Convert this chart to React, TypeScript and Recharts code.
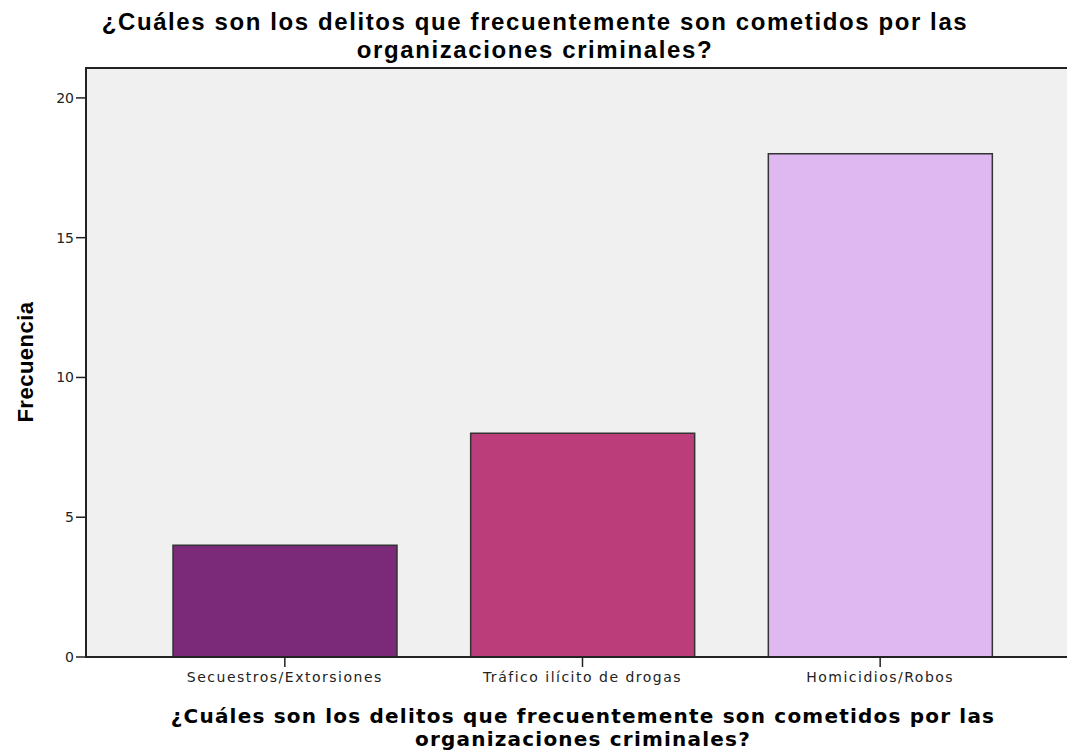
import React from 'react';
import { BarChart, Bar, XAxis, YAxis, Cell } from 'recharts';

const categories = ['Secuestros/Extorsiones', 'Tráfico ilícito de drogas', 'Homicidios/Robos'];
const frecuencias = [4, 8, 18];
const colores = ['#7b2979', '#bb3e7b', '#dfb8f2'];
const yTicks = [0, 5, 10, 15, 20];

const titulo1 = '¿Cuáles son los delitos que frecuentemente son cometidos por las';
const titulo2 = 'organizaciones criminales?';

const data = categories.map((name, i) => ({ name, value: frecuencias[i] }));

export default function App() {
  return (
    <div style={{ position: 'absolute', left: 0, top: 0, width: 1067, height: 750, background: '#fff', overflow: 'hidden' }}>
      <BarChart
        width={1067}
        height={750}
        data={data}
        margin={{ top: 68, right: 0, bottom: 63, left: 0 }}
        barSize={224}
      >
        <rect x={86} y={68} width={1000} height={589} fill="#f0f0f0" stroke="#222" strokeWidth={2} />
        <text textAnchor="middle" fontFamily="Liberation Sans" fontWeight="bold" fontSize={24} fill="#000" letterSpacing={1.6}>
          <tspan x={535} y={30}>{titulo1}</tspan>
          <tspan x={535} y={58}>{titulo2}</tspan>
        </text>
        <XAxis
          dataKey="name"
          height={30}
          padding={{ left: 50, right: 38 }}
          tickSize={10}
          tickMargin={5}
          tick={{ fill: '#222', fontSize: 14, fontFamily: 'DejaVu Sans', letterSpacing: 1.5 }}
          tickLine={{ stroke: '#222', strokeWidth: 1.5 }}
          axisLine={{ stroke: '#222', strokeWidth: 2 }}
        />
        <YAxis
          width={86}
          domain={[0, 21.07]}
          ticks={yTicks}
          tickSize={10}
          tickMargin={2}
          tick={{ fill: '#222', fontSize: 14, fontFamily: 'DejaVu Sans' }}
          tickLine={{ stroke: '#222', strokeWidth: 1.5 }}
          axisLine={{ stroke: '#222', strokeWidth: 2 }}
        />
        <Bar dataKey="value" isAnimationActive={false} stroke="#333" strokeWidth={1.5}>
          {data.map((d, i) => (
            <Cell key={d.name} fill={colores[i]} />
          ))}
        </Bar>
        <text
          x={25}
          y={362}
          transform="rotate(-90 25 362)"
          textAnchor="middle"
          dominantBaseline="central"
          fontFamily="Liberation Sans"
          fontWeight="bold"
          fontSize={22}
          letterSpacing={0.5}
          fill="#000"
        >
          Frecuencia
        </text>
        <text textAnchor="middle" fontFamily="DejaVu Sans" fontWeight="bold" fontSize={20} fill="#000" letterSpacing={1.2}>
          <tspan x={583} y={723}>{titulo1}</tspan>
          <tspan x={583} y={746}>{titulo2}</tspan>
        </text>
      </BarChart>
    </div>
  );
}
